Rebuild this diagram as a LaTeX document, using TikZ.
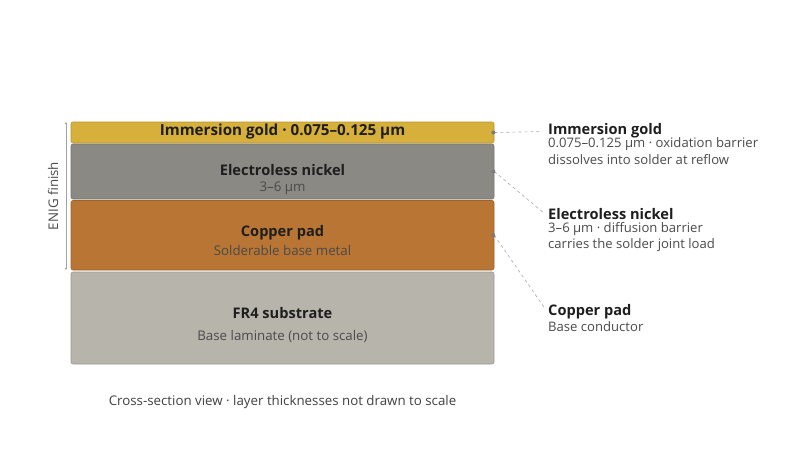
\documentclass[tikz,border=0pt]{standalone}
\usepackage{fontspec}
\setmainfont{Open Sans}
\usetikzlibrary{arrows.meta}

\definecolor{goldc}{HTML}{D6B03A}
\definecolor{nickelc}{HTML}{8A8983}
\definecolor{copperc}{HTML}{B87533}
\definecolor{fourc}{HTML}{B6B4AB}
\definecolor{ink}{HTML}{1E1E1E}
\definecolor{subink}{HTML}{4A4A4A}
\definecolor{leadc}{HTML}{A8A8A8}
\definecolor{dotc}{HTML}{7A7A7A}

\begin{document}
\begin{tikzpicture} [
    x=1pt, y=-1pt,
    layer/.style    = { rectangle, rounded corners=2pt, draw=#1!85!black,
                        fill=#1, line width=0.6pt, minimum width=423pt,
                        inner sep=0pt },
    title/.style    = { font=\fontsize{14.6}{17}\selectfont\bfseries,
                        text=ink, inner sep=0pt },
    sub/.style      = { font=\fontsize{13.3}{15}\selectfont,
                        text=subink, inner sep=0pt },
    rtitle/.style   = { title, anchor=west },
    rsub/.style     = { font=\fontsize{13.1}{15}\selectfont,
                        text=subink, inner sep=0pt, anchor=west },
    lead/.style     = { draw=leadc, dashed, line width=0.6pt,
                        shorten >=6pt },
    dot/.style      = { fill=dotc },
  ]

  \useasboundingbox (0,0) rectangle (800,471);

  % the layers of the stack
  \node[layer=goldc,   minimum height=21pt]   (gold)   at (282.5,132.5) {};
  \node[layer=nickelc, minimum height=55pt]   (nickel) at (282.5,171.5) {};
  \node[layer=copperc, minimum height=69.5pt] (copper) at (282.5,235.25) {};
  \node[layer=fourc,   minimum height=92pt]   (fr4)    at (282.5,318) {};

  % text on the layers
  \node[title, font=\fontsize{15.2}{17}\selectfont\bfseries] (goldtxt) at (282.5,132) {Immersion gold · 0.075–0.125 µm};
  \node[title] (nitxt)   at (282.5,170) {Electroless nickel};
  \node[sub]   (nisub)   at (282.5,188.5) {3–6 µm};
  \node[title] (cutxt)   at (282.5,232.5) {Copper pad};
  \node[sub]   (cusub)   at (282.5,250.5) {Solderable base metal};
  \node[title] (frtxt)   at (282.5,313) {FR4 substrate};
  \node[sub]   (frsub)   at (282.5,336.5) {Base laminate (not to scale)};

  % ENIG bracket
  \coordinate (enigtop) at (66,122);
  \coordinate (enigbot) at (66,270);
  \draw[dotc!70, line width=0.7pt, {Latex[length=2pt,width=2.5pt]}-{Latex[length=2pt,width=2.5pt]}]
        (enigtop) -- (enigbot);
  \node[sub, rotate=90] (enig) at (53,196) {ENIG finish};

  % callouts on the right
  \node[rtitle] (goldlbl) at (548,130.5) {Immersion gold};
  \node[rsub]   (goldl1)  at (548,144)   {0.075–0.125 µm · oxidation barrier};
  \node[rsub]   (goldl2)  at (548,160)   {dissolves into solder at reflow};
  \node[rtitle] (nilbl)   at (548,214.5) {Electroless nickel};
  \node[rsub]   (nil1)    at (548,229)   {3–6 µm · diffusion barrier};
  \node[rsub]   (nil2)    at (548,245)   {carries the solder joint load};
  \node[rtitle] (culbl)   at (548,312)   {Copper pad};
  \node[rsub]   (cul1)    at (548,326.5) {Base conductor};

  % connect layers to callouts
  \path[lead, shorten >=9pt] (gold.east)   -- ([yshift=-1pt]goldlbl.west);
  \path[lead] (nickel.east) -- ([yshift=-2pt]nilbl.west);
  \path[lead] (copper.east) -- ([yshift=-1pt]culbl.west);
  \fill[dot] ([xshift=-1pt]gold.east)   circle (2pt);
  \fill[dot] ([xshift=-1pt]nickel.east) circle (2pt);
  \fill[dot] ([xshift=-1pt]copper.east) circle (2pt);

  % caption
  \node[sub, text=ink!85] (caption) at (282.5,402) {Cross-section view · layer thicknesses not drawn to scale};
\end{tikzpicture}
\end{document}
